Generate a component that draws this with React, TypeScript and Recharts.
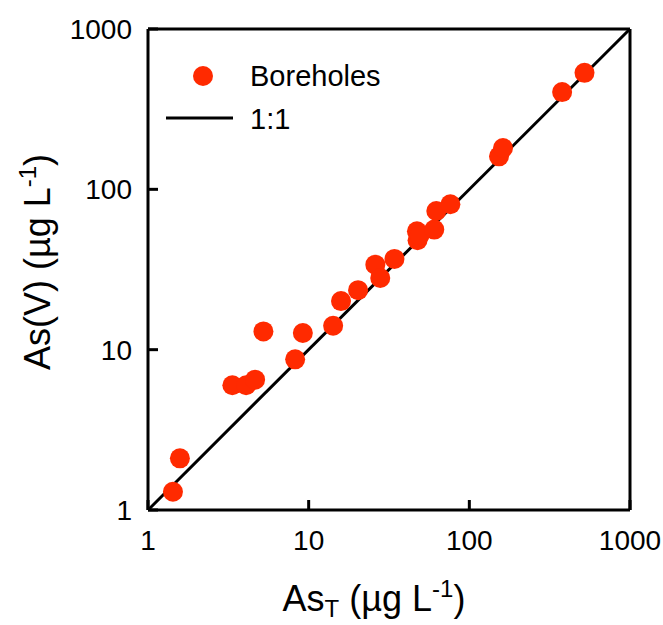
import { ScatterChart, Scatter, XAxis, YAxis, Legend } from 'recharts'

// AsT vs As(V), both in µg/L
const asTotal = [1.43, 1.58, 3.35, 4.08, 4.64, 5.23, 8.24, 9.2, 14.2, 15.9, 20.3, 26, 27.9, 34.2, 47.2, 47.6, 49, 60.5, 62.3, 76.2, 153, 162, 378, 521]
const asV = [1.3, 2.1, 6.0, 6.0, 6.5, 13.0, 8.7, 12.7, 14.1, 20.1, 23.5, 33.9, 28, 36.8, 54.7, 48.1, 51.7, 56.1, 73.3, 80.7, 160.6, 181, 404, 533]
const oneToOne = [1, 1000]
const logTicks = [1, 10, 100, 1000]

const boreholes = asTotal.map((x, i) => ({ x, y: asV[i] }))
const lineData = oneToOne.map((v) => ({ x: v, y: v }))

const FONT = '"Liberation Sans", Arial, sans-serif'
const RED = '#ff2a00'

const tickStyle = { fill: '#000', fontSize: 28, fontFamily: FONT }

function Dot(props: any) {
  return <circle cx={props.cx} cy={props.cy} r={10} fill={RED} />
}

function LegendBox() {
  return (
    <svg width={260} height={90} style={{ display: 'block' }}>
      <circle cx={53} cy={26} r={10} fill={RED} />
      <text x={100} y={36} fontSize={29} fontFamily={FONT} fill="#000">Boreholes</text>
      <line x1={16} y1={68} x2={83} y2={68} stroke="#000" strokeWidth={3} />
      <text x={100} y={79} fontSize={29} fontFamily={FONT} fill="#000">1:1</text>
    </svg>
  )
}

function XTitle() {
  return (
    <text x={374} y={611} textAnchor="middle" fontSize={36} fontFamily={FONT} fill="#000">
      As<tspan fontSize={24} dy={6}>T</tspan>
      <tspan dy={-6}> (µg L</tspan>
      <tspan fontSize={24} dy={-14}>-1</tspan>
      <tspan dy={14}>)</tspan>
    </text>
  )
}

function YTitle() {
  return (
    <text x={50} y={262} textAnchor="middle" fontSize={36} fontFamily={FONT} fill="#000" transform="rotate(-90, 50, 262)">
      As(V) (µg L<tspan fontSize={24} dy={-14}>-1</tspan>
      <tspan dy={14}>)</tspan>
    </text>
  )
}

export default function App() {
  return (
    <div style={{ position: 'absolute', left: 0, top: 0, background: '#fff' }}>
      <ScatterChart width={663} height={625} margin={{ top: 28, right: 32, bottom: 0, left: 0 }}>
        <XAxis
          dataKey="x"
          type="number"
          scale="log"
          domain={[1, 1000]}
          ticks={logTicks}
          allowDataOverflow
          height={115}
          stroke="#000"
          strokeWidth={3}
          tickSize={-10}
          tickMargin={30}
          tick={tickStyle}
          label={{ content: () => <XTitle /> }}
        />
        <XAxis
          xAxisId="top"
          orientation="top"
          dataKey="x"
          type="number"
          scale="log"
          domain={[1, 1000]}
          ticks={logTicks}
          allowDataOverflow
          height={1}
          stroke="#000"
          strokeWidth={3}
          tickSize={-10}
          tick={false}
        />
        <YAxis
          dataKey="y"
          type="number"
          scale="log"
          domain={[1, 1000]}
          ticks={logTicks}
          allowDataOverflow
          width={148}
          stroke="#000"
          strokeWidth={3}
          tickSize={-10}
          tickMargin={26}
          tick={tickStyle}
          label={{ content: () => <YTitle /> }}
        />
        <YAxis
          yAxisId="right"
          orientation="right"
          dataKey="y"
          type="number"
          scale="log"
          domain={[1, 1000]}
          ticks={logTicks}
          allowDataOverflow
          width={1}
          stroke="#000"
          strokeWidth={3}
          tickSize={-10}
          tick={false}
        />
        <Legend
          layout="horizontal"
          verticalAlign="middle"
          align="center"
          content={() => <LegendBox />}
          wrapperStyle={{ left: 150, top: 50, width: 260, height: 90 }}
        />
        <Scatter
          name="1:1"
          data={lineData}
          line={{ stroke: '#000', strokeWidth: 3 }}
          shape={() => <g />}
          isAnimationActive={false}
        />
        <Scatter name="Boreholes" data={boreholes} shape={<Dot />} isAnimationActive={false} />
      </ScatterChart>
    </div>
  )
}
